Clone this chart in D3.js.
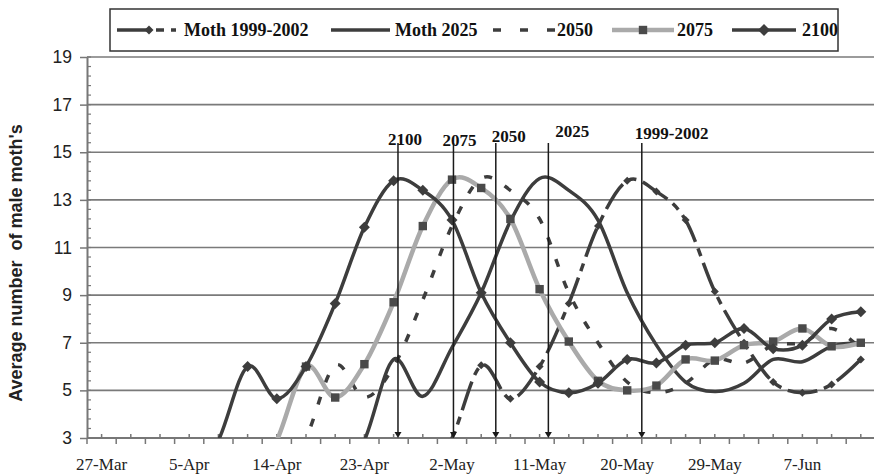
<!DOCTYPE html>
<html>
<head>
<meta charset="utf-8">
<script src="https://d3js.org/d3.v7.min.js"></script>
<style>
  body { margin: 0; background: #fff; }
</style>
</head>
<body>
<script>
// categories: one every 3 days
var categories = ["27-Mar","30-Mar","2-Apr","5-Apr","8-Apr","11-Apr","14-Apr","17-Apr","20-Apr","23-Apr",
  "26-Apr","29-Apr","2-May","5-May","8-May","11-May","14-May","17-May","20-May","23-May",
  "26-May","29-May","1-Jun","4-Jun","7-Jun","10-Jun","13-Jun"];
var tickLabels = ["27-Mar","5-Apr","14-Apr","23-Apr","2-May","11-May","20-May","29-May","7-Jun"];
var yTicks = [3, 5, 7, 9, 11, 13, 15, 17, 19];

// average number of male moths (values below 3 fall under the axis)
var moth19992002 = [0,0,0,0,0,0,0,0,0,0,0,1.0,3.0,6.05,4.65,6.0,8.65,11.9,13.8,13.35,12.15,9.15,7.0,5.35,4.9,5.25,6.3];
var moth2025     = [0,0,0,0,0,0,0,0,1.0,2.9,6.3,4.75,6.8,9.1,12.1,13.9,13.4,12.15,9.1,6.9,5.35,4.95,5.3,6.3,6.2,6.85,7.0];
var proj2050     = [0,0,0,0,0,0,1.0,3.0,6.05,4.7,6.0,8.8,11.9,13.9,13.4,12.2,9.1,7.0,5.35,4.9,5.3,6.3,6.15,6.9,7.0,7.6,6.75];
var proj2075     = [0,0,0,0,0,1.0,2.9,6.0,4.7,6.1,8.7,11.9,13.85,13.5,12.2,9.25,7.05,5.4,5.0,5.2,6.3,6.25,6.9,7.05,7.6,6.85,7.0];
var proj2100     = [0,0,0,1.0,2.9,6.0,4.65,6.0,8.65,11.85,13.8,13.4,12.15,9.1,7.0,5.35,4.9,5.3,6.3,6.15,6.9,7.0,7.6,6.75,6.9,8.0,8.3];

// peak markers (position given as category index)
var peakLabels = ["2100", "2075", "2050", "2025", "1999-2002"];
var peakIndex = [10.15, 12.05, 13.5, 15.3, 18.5];
var peakLabelDx = [-10, -11, -4, 7, -7];
var peakLabelY = [145, 146, 142, 137, 139];

var width = 874, height = 475;
var plotLeft = 87, plotTop = 57, plotBottom = 438, band = 29.2;
var plotRight = plotLeft + band * categories.length;

var svg = d3.select("body").append("svg")
    .attr("width", width)
    .attr("height", height);

var x = d3.scaleBand().domain(categories).range([plotLeft, plotRight]);
var xi = d3.scaleLinear().domain([-0.5, categories.length - 0.5]).range([plotLeft, plotRight]);
var y = d3.scaleLinear().domain([3, 19]).range([plotBottom, plotTop]);
var xc = c => x(c) + x.bandwidth() / 2;

var dark = "#3d3d3d";

// gridlines
svg.append("g").selectAll("line")
    .data(yTicks.filter(d => d > 3)).enter()
    .append("line")
    .attr("x1", plotLeft).attr("x2", width)
    .attr("y1", d => y(d)).attr("y2", d => y(d))
    .attr("stroke", "#7a7a7a").attr("stroke-width", 1.6);

// y axis
var yAxis = svg.append("g")
    .attr("transform", "translate(" + plotLeft + ",0)")
    .call(d3.axisLeft(y).tickValues(yTicks).tickSize(7).tickSizeOuter(0).tickPadding(8));
yAxis.select(".domain").attr("stroke", "#777").attr("stroke-width", 2);
yAxis.selectAll(".tick line").attr("stroke", "#777").attr("stroke-width", 1.5);
yAxis.selectAll("text")
    .attr("font-family", "Liberation Sans, Arial, sans-serif")
    .attr("font-size", "17.5px").attr("fill", "#222");

svg.append("g").selectAll("line")
    .data(d3.range(0, 41).map(i => 3 + i * 0.4)).enter()
    .append("line")
    .attr("x1", plotLeft).attr("x2", plotLeft + 4)
    .attr("y1", d => y(d)).attr("y2", d => y(d))
    .attr("stroke", "#777").attr("stroke-width", 1.2);

// x axis
var xAxis = svg.append("g")
    .attr("transform", "translate(0," + plotBottom + ")")
    .call(d3.axisBottom(x).tickValues(tickLabels).tickSize(0).tickPadding(20));
xAxis.select(".domain").remove();
xAxis.selectAll("text")
    .attr("font-family", "Liberation Serif, Times New Roman, serif")
    .attr("font-size", "17px").attr("fill", "#222");

svg.append("line")
    .attr("x1", plotLeft).attr("x2", width)
    .attr("y1", plotBottom).attr("y2", plotBottom)
    .attr("stroke", "#777").attr("stroke-width", 2);

svg.append("g").selectAll("line")
    .data(d3.range(0, categories.length + 1)).enter()
    .append("line")
    .attr("x1", d => xi(d - 0.5)).attr("x2", d => xi(d - 0.5))
    .attr("y1", plotBottom).attr("y2", plotBottom + 6)
    .attr("stroke", "#777").attr("stroke-width", 1.5);
svg.append("g").selectAll("line")
    .data(categories).enter()
    .append("line")
    .attr("x1", d => xc(d)).attr("x2", d => xc(d))
    .attr("y1", plotBottom).attr("y2", plotBottom - 4)
    .attr("stroke", "#777").attr("stroke-width", 1.5);

// y title
svg.append("text")
    .attr("transform", "translate(22,263) rotate(-90)")
    .attr("text-anchor", "middle")
    .attr("font-family", "Liberation Sans, Arial, sans-serif")
    .attr("font-weight", "bold").attr("font-size", "18px")
    .attr("fill", "#222")
    .style("white-space", "pre")
    .text("Average number  of male moth's");

// series
svg.append("clipPath").attr("id", "plot")
    .append("rect")
    .attr("x", plotLeft).attr("y", plotTop - 10)
    .attr("width", plotRight - plotLeft).attr("height", plotBottom - plotTop + 10);

var diamond = r => "M0," + (-r) + "L" + r + ",0L0," + r + "L" + (-r) + ",0Z";

var series = [
  {name: "Moth 1999-2002", values: moth19992002, color: dark, width: 3.5, dash: "30,7,8,7", marker: "diamond", size: 4},
  {name: "Moth 2025", values: moth2025, color: dark, width: 3.5, dash: null, marker: null},
  {name: "2050", values: proj2050, color: dark, width: 3.5, dash: "8,15", marker: null},
  {name: "2075", values: proj2075, color: "#aaaaaa", width: 4.5, dash: null, marker: "square", size: 4.2},
  {name: "2100", values: proj2100, color: dark, width: 3.5, dash: null, marker: "diamond", size: 5.5}
];

var line = d3.line()
    .x((d, i) => xc(categories[i]))
    .y(d => y(d))
    .curve(d3.curveCardinal.tension(0));

var plot = svg.append("g").attr("clip-path", "url(#plot)");

series.forEach(s => {
  plot.append("path")
      .attr("d", line(s.values))
      .attr("fill", "none")
      .attr("stroke", s.color)
      .attr("stroke-width", s.width)
      .attr("stroke-dasharray", s.dash)
      .attr("stroke-linejoin", "round");

  if (s.marker) {
    var pts = s.values.map((v, i) => ({c: categories[i], v: v})).filter(d => d.v > 3);
    if (s.marker == "diamond") {
      plot.append("g").selectAll("path")
          .data(pts).enter()
          .append("path")
          .attr("transform", d => "translate(" + xc(d.c) + "," + y(d.v) + ")")
          .attr("d", diamond(s.size))
          .attr("fill", dark);
    } else {
      plot.append("g").selectAll("rect")
          .data(pts).enter()
          .append("rect")
          .attr("x", d => xc(d.c) - s.size).attr("y", d => y(d.v) - s.size)
          .attr("width", s.size * 2).attr("height", s.size * 2)
          .attr("fill", "#4a4a4a");
    }
  }
});

// peak lines with arrows
var peaks = svg.append("g");
peakLabels.forEach((lab, i) => {
  var px = xi(peakIndex[i]);
  peaks.append("line")
      .attr("x1", px).attr("x2", px)
      .attr("y1", 143).attr("y2", plotBottom - 4)
      .attr("stroke", "#1a1a1a").attr("stroke-width", 1.5);
  peaks.append("path")
      .attr("d", "M" + (px - 3.5) + "," + (plotBottom - 6) + "L" + (px + 3.5) + "," + (plotBottom - 6) + "L" + px + "," + plotBottom + "Z")
      .attr("fill", "#1a1a1a");
  peaks.append("text")
      .attr("x", px + peakLabelDx[i]).attr("y", peakLabelY[i])
      .attr("font-family", "Liberation Serif, Times New Roman, serif")
      .attr("font-weight", "bold").attr("font-size", "17px")
      .attr("fill", "#111")
      .text(lab);
});

// legend
var legend = svg.append("g");
legend.append("rect")
    .attr("x", 110).attr("y", 9).attr("width", 728).attr("height", 42)
    .attr("fill", "#fff").attr("stroke", "#333").attr("stroke-width", 1.5);

var legendPos = [
  {x1: 117, x2: 176, mx: 149, tx: 184},
  {x1: 331, x2: 390, mx: null, tx: 395},
  {x1: 493, x2: 556, mx: null, tx: 557},
  {x1: 612, x2: 674, mx: 643, tx: 677},
  {x1: 732, x2: 796, mx: 764, tx: 802}
];
var ly = 30;
series.forEach((s, i) => {
  var p = legendPos[i];
  legend.append("line")
      .attr("x1", p.x1).attr("x2", p.x2).attr("y1", ly).attr("y2", ly)
      .attr("stroke", s.color).attr("stroke-width", s.width)
      .attr("stroke-dasharray", i == 0 ? "32,7,8,7" : (i == 2 ? "8,19" : null));
  if (s.marker == "diamond") {
    legend.append("path")
        .attr("transform", "translate(" + p.mx + "," + ly + ")")
        .attr("d", diamond(s.size + 0.5)).attr("fill", dark);
  } else if (s.marker == "square") {
    legend.append("rect")
        .attr("x", p.mx - s.size).attr("y", ly - s.size)
        .attr("width", s.size * 2).attr("height", s.size * 2).attr("fill", "#4a4a4a");
  }
  legend.append("text")
      .attr("x", p.tx).attr("y", ly + 6)
      .attr("font-family", "Liberation Serif, Times New Roman, serif")
      .attr("font-weight", "bold").attr("font-size", "18px")
      .attr("fill", "#111")
      .text(s.name);
});
</script>
</body>
</html>
